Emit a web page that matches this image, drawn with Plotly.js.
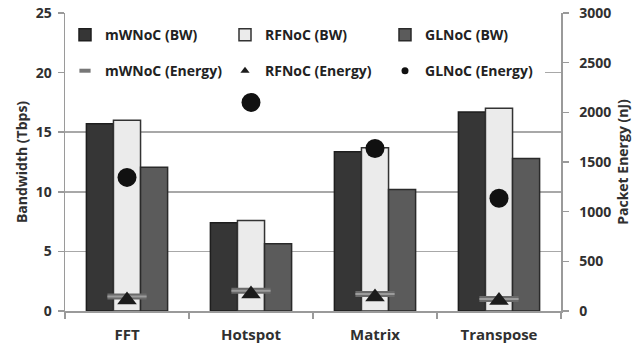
<!DOCTYPE html>
<html><head><meta charset="utf-8">
<script src="https://cdn.plot.ly/plotly-3.0.1.min.js"></script>
<style>html,body{margin:0;padding:0;background:#fff}#chart{width:632px;height:348px}</style>
</head><body><div id="chart"></div>
<script>
const categories = ['FFT', 'Hotspot', 'Matrix', 'Transpose'];
const mwnocBW = [15.7, 7.4, 13.35, 16.7];
const rfnocBW = [16.0, 7.6, 13.7, 17.0];
const glnocBW = [12.05, 5.65, 10.2, 12.8];
const mwnocEnergy = [145, 205, 170, 120];
const rfnocEnergy = [110, 170, 140, 105];
const glnocEnergy = [1345, 2100, 1635, 1135];
const leftTicks = [0, 5, 10, 15, 20, 25];
const rightTicks = [0, 500, 1000, 1500, 2000, 2500, 3000];

const FONT = 'Open Sans, DejaVu Sans, sans-serif';
const TXT = '#303030';
const AX = '#9a9a9a';
const nul = [null];

const traces = [
  {type:'bar', name:'mWNoC (BW)', x:categories, y:mwnocBW, legend:'legend',
   marker:{color:'#363636', line:{color:'#1e1e1e', width:1.5}}},
  {type:'bar', name:'RFNoC (BW)', x:categories, y:rfnocBW, legend:'legend',
   marker:{color:'#ebebeb', line:{color:'#333333', width:1.5}}},
  {type:'bar', name:'GLNoC (BW)', x:categories, y:glnocBW, legend:'legend',
   marker:{color:'#5b5b5b', line:{color:'#2a2a2a', width:1.5}}},
  // energy markers (actual)
  {type:'scatter', mode:'markers', x:categories, y:mwnocEnergy, yaxis:'y2', showlegend:false,
   marker:{symbol:'line-ew', size:28, line:{color:'#6a6a6a', width:6}}},
  {type:'scatter', mode:'markers', x:categories, y:mwnocEnergy, yaxis:'y2', showlegend:false,
   marker:{symbol:'line-ew', size:28, line:{color:'#9c9c9c', width:2}}},
  {type:'scatter', mode:'markers', x:categories, y:rfnocEnergy, yaxis:'y2', showlegend:false,
   marker:{symbol:'triangle-up', size:17, color:'#1c1c1c', line:{width:0}}},
  {type:'scatter', mode:'markers', x:categories, y:glnocEnergy, yaxis:'y2', showlegend:false,
   marker:{symbol:'circle', size:19, color:'#111111', line:{width:0}}},
  // legend entries for energy series
  {type:'scatter', mode:'markers', name:'mWNoC (Energy)', x:nul, y:nul, yaxis:'y2', legend:'legend2',
   marker:{symbol:'line-ew', size:8, line:{color:'#777777', width:4}}},
  {type:'scatter', mode:'markers', name:'RFNoC (Energy)', x:nul, y:nul, yaxis:'y2', legend:'legend2',
   marker:{symbol:'triangle-up', size:8, color:'#1c1c1c', line:{width:0}}},
  {type:'scatter', mode:'markers', name:'GLNoC (Energy)', x:nul, y:nul, yaxis:'y2', legend:'legend2',
   marker:{symbol:'circle', size:7, color:'#111111', line:{width:0}}}
];

const legFont = {family:FONT, size:14, color:'#222', weight:700};
const layout = {
  width:632, height:348,
  margin:{l:65, r:71, t:13, b:37, pad:0},
  paper_bgcolor:'#fff', plot_bgcolor:'#fff',
  barmode:'group', bargap:0.345, bargroupgap:0,
  font:{family:FONT, color:TXT},
  xaxis:{type:'category', categoryarray:categories, showline:true, linecolor:AX, linewidth:1.5,
    ticks:'outside', tickson:'boundaries', ticklen:6, tickcolor:AX, tickwidth:1.5, showgrid:false,
    ticklabelstandoff:9,
    tickfont:{family:FONT, size:15, color:TXT, weight:700}},
  yaxis:{range:[0,25], tickvals:leftTicks, showline:true, linecolor:AX, linewidth:1.5,
    ticks:'outside', ticklen:6, tickcolor:AX, tickwidth:1.5, ticklabelstandoff:3,
    showgrid:true, gridcolor:'#a8a8a8', gridwidth:1.5, zeroline:false,
    tickfont:{family:FONT, size:14, color:TXT, weight:700},
    title:{text:'Bandwidth (Tbps)', font:{family:FONT, size:14, color:TXT, weight:700}}},
  yaxis2:{range:[0,3000], tickvals:rightTicks, overlaying:'y', side:'right', showline:true,
    linecolor:AX, linewidth:1.5, ticks:'outside', ticklen:6, tickcolor:AX, tickwidth:1.5,
    ticklabelstandoff:8, showgrid:false, zeroline:false,
    tickfont:{family:FONT, size:14, color:TXT, weight:700},
    title:{text:'Packet Energy (nJ)', font:{family:FONT, size:14, color:TXT, weight:700}}},
  legend:{orientation:'h', x:0, xanchor:'left', y:0.926, yanchor:'middle', bgcolor:'#fff',
    entrywidth:115, entrywidthmode:'pixels', itemwidth:30, font:legFont, traceorder:'normal'},
  legend2:{orientation:'h', x:0, xanchor:'left', y:0.805, yanchor:'middle', bgcolor:'#fff',
    entrywidth:115, entrywidthmode:'pixels', itemwidth:30, font:legFont, traceorder:'normal'},
  showlegend:true
};

Plotly.newPlot('chart', traces, layout, {displayModeBar:false, staticPlot:true});
</script></body></html>
